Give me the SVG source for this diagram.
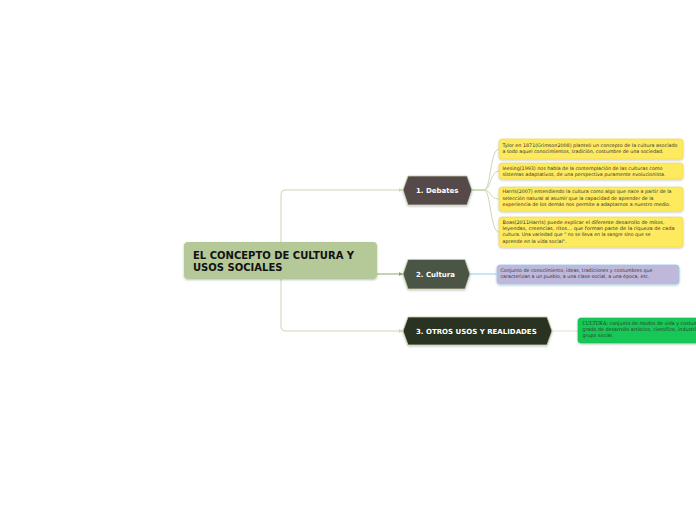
<svg xmlns="http://www.w3.org/2000/svg" width="696" height="520" viewBox="0 0 696 520">
<defs>
<style>
.conn{fill:none;stroke:#c8d9b2;stroke-width:1}
.root{fill:#b5c898}
.rt{font-family:"DejaVu Sans",Verdana,sans-serif;font-weight:bold;font-size:10px;fill:#111}
.hex{stroke:#c4d2a9;stroke-width:0.8}
.ht{font-family:"DejaVu Sans",Verdana,sans-serif;font-weight:bold;font-size:7px;fill:#fff}
.note{fill:#fdea5f;stroke:#ecd64e;stroke-width:0.6}
.nt{font-family:"DejaVu Sans",Verdana,sans-serif;font-size:4.8px;fill:#333}
</style>
<filter id="sh" x="-10%" y="-20%" width="120%" height="150%">
<feDropShadow dx="0" dy="1" stdDeviation="1" flood-color="#000" flood-opacity="0.25"/>
</filter>
<marker id="ar" markerWidth="5" markerHeight="5" refX="4" refY="2.5" orient="auto" markerUnits="userSpaceOnUse">
<path d="M0,0.5 L4,2.5 L0,4.5 Z" fill="#c8d9b2"/>
</marker>
<marker id="ar2" markerWidth="5" markerHeight="5" refX="4" refY="2.5" orient="auto" markerUnits="userSpaceOnUse">
<path d="M0,0.5 L4,2.5 L0,4.5 Z" fill="#8ea56d"/>
</marker>
</defs>
<rect width="696" height="520" fill="#ffffff"/>

<g id="connectors">
<path class="conn" d="M281,242 V194 Q281,190 285,190 H403" marker-end="url(#ar)"/>
<path class="conn" d="M281,279 V327 Q281,331 285,331 H403" marker-end="url(#ar)"/>
<path d="M377,274 H403" fill="none" stroke="#8ea56d" stroke-width="1" marker-end="url(#ar2)"/>
<path class="conn" d="M472,190 H484 C491,190 490,149 499,149"/>
<path class="conn" d="M472,190 H484 C491,190 490,171 499,171"/>
<path class="conn" d="M472,190 H484 C491,190 490,199 499,199"/>
<path class="conn" d="M472,190 H484 C491,190 490,232 499,232"/>
<path d="M470,274 H497" fill="none" stroke="#8fcff0" stroke-width="1"/>
<path d="M552,331 H578" fill="none" stroke="#dbe6cc" stroke-width="1"/>
</g>

<g id="root">
<rect class="root" x="184" y="242" width="193" height="37" rx="4" filter="url(#sh)"/>
<text class="rt" x="193" y="259.3">EL CONCEPTO DE CULTURA Y</text>
<text class="rt" x="193" y="271">USOS SOCIALES</text>
</g>

<g id="debates">
<polygon class="hex" fill="#554a4a" points="403,190 408,176 467,176 472,190 467,205 408,205" filter="url(#sh)"/>
<text class="ht" x="416" y="193">1. Debates</text>
</g>

<g id="cultura">
<polygon class="hex" fill="#4c5444" points="403,274 408,259.5 465,259.5 470,274 465,289 408,289" filter="url(#sh)"/>
<text class="ht" x="416" y="276.7">2. Cultura</text>
</g>

<g id="otros">
<polygon class="hex" fill="#2a3120" points="403,331 408,317 547,317 552,331 547,345 408,345" filter="url(#sh)"/>
<text class="ht" x="416" y="333.7">3. OTROS USOS Y REALIDADES</text>
</g>

<g id="note1">
<rect class="note" x="499" y="139" width="184" height="20" rx="3" filter="url(#sh)"/>
<text class="nt" x="502.5" y="146.5" textLength="175" lengthAdjust="spacingAndGlyphs">Tylor en 1871(Grimson2008) planteó un concepto de la cultura asociado</text>
<text class="nt" x="502.5" y="152.5" textLength="161" lengthAdjust="spacingAndGlyphs">a todo aquel conocimientos, tradición, costumbre de una sociedad.</text>
</g>

<g id="note2">
<rect class="note" x="499" y="163" width="184" height="16" rx="3" filter="url(#sh)"/>
<text class="nt" x="502.5" y="170" textLength="160" lengthAdjust="spacingAndGlyphs">leesing(1993) nos habla de la contemplación de las culturas como</text>
<text class="nt" x="502.5" y="176" textLength="163" lengthAdjust="spacingAndGlyphs">sistemas adaptativos, de una perspectiva puramente evolucionista.</text>
</g>

<g id="note3">
<rect class="note" x="499" y="187" width="184" height="24" rx="3" filter="url(#sh)"/>
<text class="nt" x="502.5" y="193.3" textLength="169" lengthAdjust="spacingAndGlyphs">Harris(2007) entendiendo la cultura como algo que nace a partir de la</text>
<text class="nt" x="502.5" y="199.6" textLength="151" lengthAdjust="spacingAndGlyphs">selección natural al asumir que la capacidad de aprender de la</text>
<text class="nt" x="502.5" y="206" textLength="168" lengthAdjust="spacingAndGlyphs">experiencia de los demás nos permite a adaptarnos a nuestro medio.</text>
</g>

<g id="note4">
<rect class="note" x="499" y="217" width="184" height="30" rx="3" filter="url(#sh)"/>
<text class="nt" x="502.5" y="223.5" textLength="162" lengthAdjust="spacingAndGlyphs">Boas(2011Harris) puede explicar el diferente desarrollo de mitos,</text>
<text class="nt" x="502.5" y="229.9" textLength="172" lengthAdjust="spacingAndGlyphs">leyendas, creencias, ritos... que forman parte de la riqueza de cada</text>
<text class="nt" x="502.5" y="236.3" textLength="148" lengthAdjust="spacingAndGlyphs">cultura. Una variedad que " no se lleva en la sangre sino que se</text>
<text class="nt" x="502.5" y="242.7" textLength="64" lengthAdjust="spacingAndGlyphs">aprende en la vida social".</text>
</g>

<g id="note5">
<rect x="497" y="265" width="182" height="19" rx="3" fill="#c0b8db" stroke="#8fcdf0" stroke-width="0.8" filter="url(#sh)"/>
<text class="nt" x="500.5" y="271.6" textLength="152" lengthAdjust="spacingAndGlyphs">Conjunto de conocimiento, ideas, tradiciones y costumbres que</text>
<text class="nt" x="500.5" y="277.8" textLength="149" lengthAdjust="spacingAndGlyphs">caracterizan a un pueblo, a una clase social, a una época, etc.</text>
</g>

<g id="note6">
<rect x="578" y="318" width="130" height="25" rx="3" fill="#14c957" stroke="#10b84e" stroke-width="0.6" filter="url(#sh)"/>
<text class="nt" x="582.5" y="325.3"><tspan font-family="'Liberation Serif',serif" font-size="5.2px">CULTURA:</tspan> conjunto de modos de vida y costumbres</text>
<text class="nt" x="582.5" y="331.2">grado de desarrollo artístico, científico, industrial</text>
<text class="nt" x="582.5" y="337">grupo social.</text>
</g>
</svg>
